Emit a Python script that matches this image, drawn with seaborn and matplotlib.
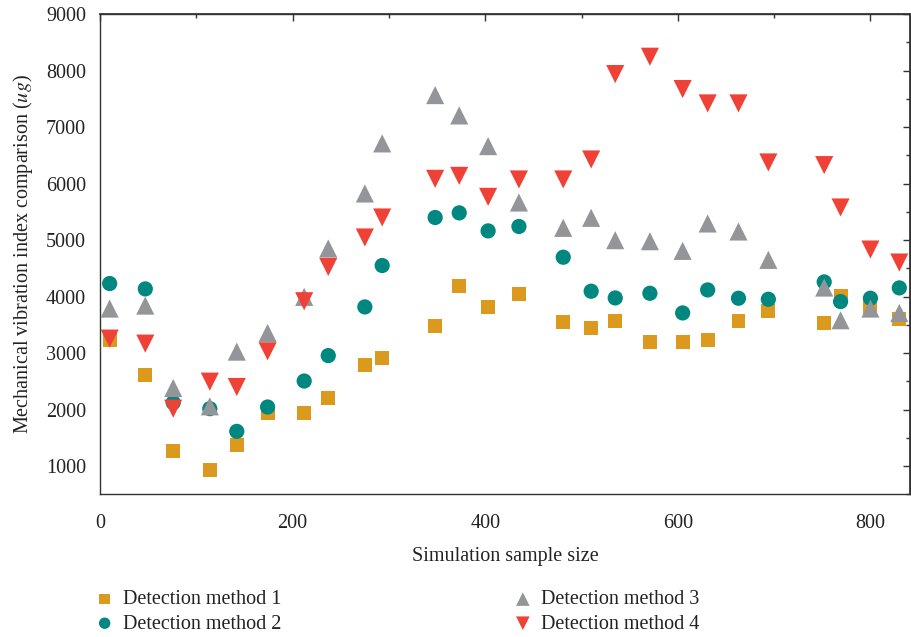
import matplotlib
matplotlib.use("Agg")
import matplotlib.pyplot as plt
import seaborn as sns
import pandas as pd
from matplotlib.ticker import MultipleLocator, NullFormatter

sample_size = [10, 47, 76, 114, 142, 174, 212, 237, 275, 293, 348, 373, 403,
               435, 481, 510, 535, 571, 605, 631, 663, 694, 752, 769, 800, 830]
method1 = [3226, 2606, 1260, 936, 1366, 1939, 1945, 2204, 2789, 2913, 3474, 4182, 3810,
           4041, 3545, 3444, 3574, 3202, 3202, 3238, 3563, 3745, 3527, 4017, 3816, 3610]
method2 = [4230, 4135, 2122, 2016, 1614, 2045, 2505, 2955, 3816, 4549, 5399, 5481, 5162,
           5240, 4696, 4094, 3975, 4058, 3710, 4117, 3970, 3952, 4259, 3911, 3970, 4153]
method3 = [3787, 3840, 2381, 2057, 3025, 3356, 3994, 4850, 5824, 6710, 7565, 7205, 6662,
           5664, 5216, 5393, 4997, 4979, 4808, 5293, 5151, 4649, 4159, 3580, 3787, 3710]
method4 = [3256, 3167, 2016, 2494, 2399, 3031, 3917, 4524, 5045, 5399, 6083, 6136, 5764,
           6072, 6072, 6426, 7937, 8244, 7672, 7418, 7418, 6373, 6326, 5576, 4832, 4602]

series_names = ["Detection method 1", "Detection method 2",
                "Detection method 3", "Detection method 4"]
series_values = [method1, method2, method3, method4]

sns.set_theme(style="white")
plt.rcParams["font.family"] = ["Liberation Serif", "DejaVu Serif"]
plt.rcParams["mathtext.fontset"] = "stix"

colors = ["#DB9A1E", "#00877F", "#939598", "#EF4136"]
markers = ["s", "o", "^", "v"]
sizes = [100, 120, 170, 170]

fig = plt.figure(figsize=(9.11, 6.37), dpi=100)
ax = fig.add_axes([0.1098, 0.224, 0.889, 0.754])

for name, vals, c, m, s in zip(series_names, series_values, colors, markers, sizes):
    df = pd.DataFrame({"x": sample_size, "y": vals})
    sns.scatterplot(data=df, x="x", y="y", ax=ax, color=c, marker=m, s=s,
                    edgecolor="none", linewidth=0, label=name, zorder=3)

ax.set_xlim(0, 841)
ax.set_ylim(500, 9000)
ax.xaxis.set_major_locator(MultipleLocator(200))
ax.xaxis.set_minor_locator(MultipleLocator(100))
ax.yaxis.set_major_locator(MultipleLocator(1000))
ax.yaxis.set_minor_locator(MultipleLocator(500))
ax.set_yticks(range(1000, 9001, 1000))

for sp in ax.spines.values():
    sp.set_visible(True)
    sp.set_color("#333333")
    sp.set_linewidth(1.0)

ax.tick_params(axis="both", which="major", direction="out", length=5, width=1.0,
               color="#333333", labelsize=14.5, labelcolor="#222222")
ax.tick_params(axis="x", which="major", pad=9)
ax.tick_params(axis="y", which="major", pad=5)
ax.tick_params(axis="both", which="minor", direction="out", length=3, width=1.0,
               color="#333333")

# mirrored ticks pointing inward on top and right
secx = ax.secondary_xaxis("top")
secx.xaxis.set_major_locator(MultipleLocator(200))
secx.xaxis.set_minor_locator(MultipleLocator(100))
secx.xaxis.set_major_formatter(NullFormatter())
secx.tick_params(which="major", direction="in", length=5, width=1.0, color="#333333")
secx.tick_params(which="minor", direction="in", length=3, width=1.0, color="#333333")
secx.spines["top"].set_color("#333333")
secy = ax.secondary_yaxis("right")
secy.set_yticks(range(1000, 9001, 1000))
secy.yaxis.set_minor_locator(MultipleLocator(500))
secy.yaxis.set_major_formatter(NullFormatter())
secy.tick_params(which="major", direction="in", length=5, width=1.0, color="#333333")
secy.tick_params(which="minor", direction="in", length=3, width=1.0, color="#333333")
secy.spines["right"].set_color("#333333")

ax.set_xlabel("Simulation sample size", fontsize=14.5, color="#222222", labelpad=10)
ax.set_ylabel(r"Mechanical vibration index comparison ($ug$)", fontsize=14.5,
              color="#222222", labelpad=8)

leg = ax.legend(loc="upper left", bbox_to_anchor=(0.095, 0.086), bbox_transform=fig.transFigure,
                ncol=2, frameon=False, fontsize=14.5, columnspacing=11.5,
                handletextpad=0.4, labelspacing=0.25, borderaxespad=0, handlelength=1.0,
                markerscale=0.75)
for t in leg.get_texts():
    t.set_color("#222222")

fig.savefig("out.png", dpi=100)
